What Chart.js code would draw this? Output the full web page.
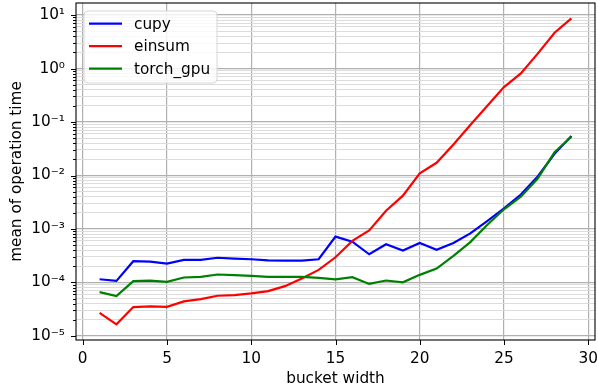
<!DOCTYPE html>
<html>
<head>
<meta charset="utf-8">
<script src="https://cdn.jsdelivr.net/npm/chart.js@4/dist/chart.umd.min.js"></script>
<style>
  html, body { margin: 0; padding: 0; background: #fff; }
  #wrap { width: 598px; height: 388px; }
</style>
</head>
<body>
<div id="wrap"><canvas id="chart" width="598" height="388"></canvas></div>
<script>
// bucket widths on the x axis
const widths = [1, 2, 3, 4, 5, 6, 7, 8, 9, 10, 11, 12, 13, 14, 15, 16, 17, 18, 19, 20, 21, 22, 23, 24, 25, 26, 27, 28, 29];

// mean of operation time
const cupy = [1.15e-4, 1.07e-4, 2.5e-4, 2.45e-4, 2.26e-4, 2.64e-4, 2.64e-4, 2.9e-4, 2.8e-4, 2.72e-4,
  2.6e-4, 2.57e-4, 2.57e-4, 2.72e-4, 7.2e-4, 5.8e-4, 3.37e-4, 5.2e-4, 3.95e-4, 5.5e-4,
  4.07e-4, 5.5e-4, 8.3e-4, 1.41e-3, 2.43e-3, 4.4e-3, 9.6e-3, 2.55e-2, 5.46e-2];
const einsum = [2.7e-5, 1.65e-5, 3.47e-5, 3.57e-5, 3.5e-5, 4.43e-5, 4.9e-5, 5.65e-5, 5.8e-5, 6.24e-5,
  6.9e-5, 8.55e-5, 1.19e-4, 1.72e-4, 2.96e-4, 6.0e-4, 9.4e-4, 2.2e-3, 4.2e-3, 1.1e-2,
  1.73e-2, 3.8e-2, 8.8e-2, 0.2, 0.45, 0.81, 1.9, 4.67, 8.66];
const torchGpu = [6.6e-5, 5.6e-5, 1.06e-4, 1.08e-4, 1.03e-4, 1.24e-4, 1.27e-4, 1.41e-4, 1.37e-4, 1.33e-4,
  1.27e-4, 1.27e-4, 1.27e-4, 1.22e-4, 1.14e-4, 1.26e-4, 9.4e-5, 1.09e-4, 1.01e-4, 1.39e-4,
  1.82e-4, 3.15e-4, 5.7e-4, 1.19e-3, 2.34e-3, 4.0e-3, 8.8e-3, 2.74e-2, 5.3e-2];

// tick positions
const xTicks = [0, 5, 10, 15, 20, 25, 30];
const yDecades = [-5, -4, -3, -2, -1, 0, 1];

const FONT = "'DejaVu Sans', sans-serif";
const SUP = { "-": "\u207b", "0": "\u2070", "1": "\u00b9", "2": "\u00b2", "3": "\u00b3", "4": "\u2074", "5": "\u2075" };

function isMajor(v) {
  const e = Math.log10(v);
  return Math.abs(e - Math.round(e)) < 1e-6;
}

function powLabel(v) {
  const e = Math.round(Math.log10(v));
  return "10" + String(e).split("").map((c) => SUP[c]).join("");
}

// no extra room for labels hanging past the plot edges
function noOverhang(scale) {
  scale.paddingLeft = 0;
  scale.paddingRight = 0;
  scale.paddingTop = 0;
  scale.paddingBottom = 0;
}

// frame, tick marks, axis titles and legend, drawn matplotlib style
const decorations = {
  id: "decorations",
  afterDatasetsDraw(chart) {
    const ctx = chart.ctx;
    const a = chart.chartArea;
    const xs = chart.scales.x;
    const ys = chart.scales.y;
    ctx.save();

    // spines
    ctx.strokeStyle = "#000";
    ctx.lineWidth = 1.1;
    ctx.strokeRect(a.left, a.top, a.right - a.left, a.bottom - a.top);

    // tick marks
    ctx.beginPath();
    xTicks.forEach((t) => {
      const px = Math.round(xs.getPixelForValue(t)) + 0.5;
      ctx.moveTo(px, a.bottom);
      ctx.lineTo(px, a.bottom + 5);
    });
    ys.ticks.forEach((t) => {
      const py = Math.round(ys.getPixelForValue(t.value)) + 0.5;
      const len = isMajor(t.value) ? 5 : 3;
      ctx.moveTo(a.left, py);
      ctx.lineTo(a.left - len, py);
    });
    ctx.lineWidth = 1;
    ctx.stroke();

    // axis titles
    ctx.fillStyle = "#000";
    ctx.font = "15.3px " + FONT;
    ctx.textAlign = "center";
    ctx.textBaseline = "alphabetic";
    ctx.fillText("bucket width", (a.left + a.right) / 2, 383);
    ctx.save();
    ctx.translate(21, (a.top + a.bottom) / 2);
    ctx.rotate(-Math.PI / 2);
    ctx.fillText("mean of operation time", 0, 0);
    ctx.restore();

    // legend box
    const bx = 84, by = 11, bw = 133, bh = 72, r = 4;
    ctx.beginPath();
    ctx.moveTo(bx + r, by);
    ctx.arcTo(bx + bw, by, bx + bw, by + bh, r);
    ctx.arcTo(bx + bw, by + bh, bx, by + bh, r);
    ctx.arcTo(bx, by + bh, bx, by, r);
    ctx.arcTo(bx, by, bx + bw, by, r);
    ctx.closePath();
    ctx.fillStyle = "rgba(255,255,255,0.8)";
    ctx.fill();
    ctx.strokeStyle = "#d6d6d6";
    ctx.lineWidth = 1;
    ctx.stroke();

    const rows = [23.7, 46.2, 68.7];
    chart.data.datasets.forEach((ds, i) => {
      ctx.beginPath();
      ctx.moveTo(89, rows[i]);
      ctx.lineTo(122, rows[i]);
      ctx.strokeStyle = ds.borderColor;
      ctx.lineWidth = 2.2;
      ctx.stroke();
      ctx.fillStyle = "#000";
      ctx.textAlign = "left";
      ctx.textBaseline = "middle";
      ctx.fillText(ds.label, 134, rows[i] + 1);
    });
    ctx.restore();
  },
};

const xy = (ys) => widths.map((w, i) => ({ x: w, y: ys[i] }));

new Chart(document.getElementById("chart"), {
  type: "line",
  data: {
    datasets: [
      { label: "cupy", data: xy(cupy), borderColor: "#0000ff", order: 2 },
      { label: "einsum", data: xy(einsum), borderColor: "#ff0000", order: 1 },
      { label: "torch_gpu", data: xy(torchGpu), borderColor: "#008000", order: 0 },
    ],
  },
  options: {
    responsive: false,
    animation: false,
    devicePixelRatio: 1,
    layout: { padding: { left: 0, top: 3, right: 3, bottom: 0 } },
    elements: {
      point: { radius: 0 },
      line: { borderWidth: 2.2, tension: 0, fill: false },
    },
    plugins: {
      legend: { display: false },
      tooltip: { enabled: false },
    },
    scales: {
      x: {
        type: "linear",
        min: -0.4,
        max: 30.4,
        afterBuildTicks: (scale) => {
          scale.ticks = xTicks.map((v) => ({ value: v }));
        },
        afterFit: (scale) => {
          scale.height = 48;
          noOverhang(scale);
        },
        border: { display: false },
        grid: { color: "#b0b0b0", lineWidth: 1.2, drawTicks: false },
        ticks: {
          color: "#000",
          font: { family: FONT, size: 15.3 },
          padding: 10,
          maxRotation: 0,
          autoSkip: false,
          callback: (v) => String(v),
        },
      },
      y: {
        type: "logarithmic",
        min: Math.pow(10, -5.075),
        max: Math.pow(10, 1.225),
        afterBuildTicks: (scale) => {
          const t = [];
          yDecades.forEach((e) => {
            for (let m = 1; m <= 9; m++) {
              const v = m * Math.pow(10, e);
              if (v >= scale.min && v <= scale.max) t.push({ value: v, major: m === 1 });
            }
          });
          scale.ticks = t;
        },
        afterFit: (scale) => {
          scale.width = 76;
          noOverhang(scale);
        },
        border: { display: false },
        grid: {
          drawTicks: false,
          color: (c) => (c.tick && isMajor(c.tick.value) ? "#b0b0b0" : "#dcdcdc"),
          lineWidth: (c) => (c.tick && isMajor(c.tick.value) ? 1.2 : 1),
        },
        ticks: {
          color: "#000",
          font: { family: FONT, size: 15.3 },
          padding: 11,
          autoSkip: false,
          callback: (v) => (isMajor(v) ? powLabel(v) : ""),
        },
      },
    },
  },
  plugins: [decorations],
});
</script>
</body>
</html>
